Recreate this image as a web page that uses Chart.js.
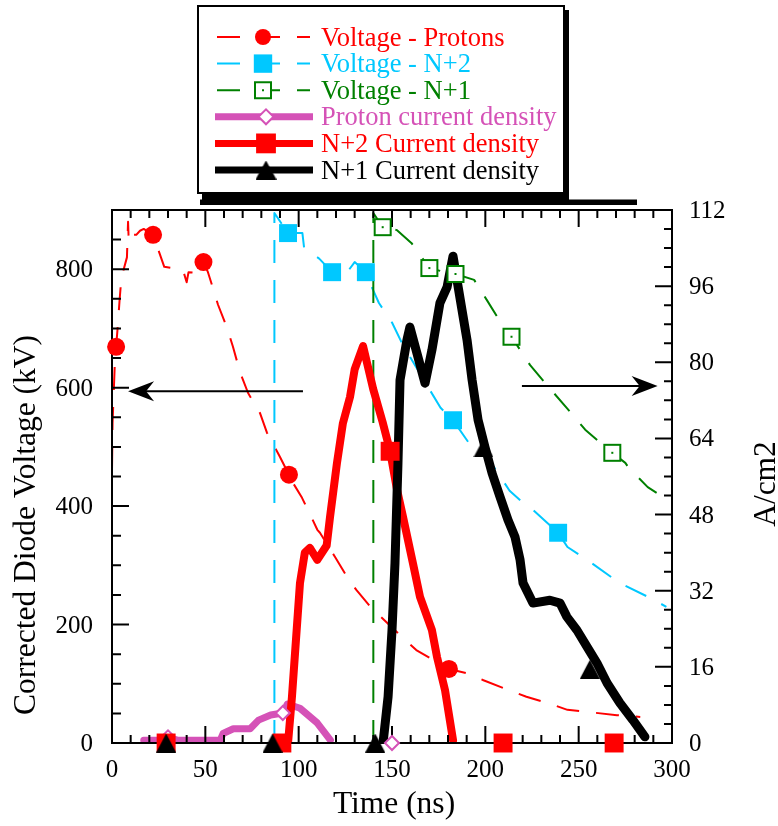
<!DOCTYPE html>
<html>
<head>
<meta charset="utf-8">
<title>Diode voltage and current density</title>
<script src="https://cdn.jsdelivr.net/npm/chart.js@4.4.1/dist/chart.umd.min.js"></script>
<style>
  html, body { margin: 0; padding: 0; background: #fff; }
  canvas { display: block; }
</style>
</head>
<body>
<canvas id="diode-chart" width="778" height="826"></canvas>
<script>
// --- values: time in ns, voltage in kV, current density in A/cm2 ---
const protonVoltageTime = [0, 0.3, 1.5, 2.2, 3, 4, 5, 8, 8.6, 9, 11, 13, 15, 17, 22, 28, 38, 40, 41, 44.5,
  49, 51.4, 53.6, 56.8, 61.6, 64.8, 68.6, 72.9, 79.3, 83, 90, 94.8, 97, 101.8, 107, 110, 111.4, 119.5, 126, 131,
  139, 152.7, 163, 180.5, 190, 199, 209.5, 222, 233, 244, 256, 270.5, 283];
const protonVoltage = [461, 540, 640, 669, 700, 745, 785, 820, 880, 845, 858, 858, 865, 868, 858, 804, 799, 778, 795, 794,
  812, 795, 773, 740, 701, 669, 626, 591, 557, 524, 483, 453, 439, 414, 380, 360, 355, 314, 280, 258,
  228, 187, 157, 125, 118, 106, 93, 78, 68, 56, 52, 47, 44];
const protonVoltageMarkTime = [2.2, 22, 49, 94.8, 180.5];
const protonVoltageMark = [669, 858, 812, 453, 125];

const n2VoltageTime = [87, 87, 94.3, 102, 103, 111, 117.9, 126, 130, 136, 137, 143, 150, 156, 176, 182.7,
  194, 201, 213, 219, 225, 239, 244, 256, 268, 274, 287, 297];
const n2Voltage = [0, 895, 861, 861, 834, 818, 795, 795, 812, 795, 785, 743, 710, 671, 566, 545,
  494, 483, 426, 409, 395, 355, 331, 306, 279, 267, 247, 230];
const n2VoltageMarkTime = [94.3, 117.9, 136, 182.7, 239];
const n2VoltageMark = [861, 795, 795, 545, 355];

const n1VoltageTime = [140, 140, 145, 152.7, 160.5, 170, 176, 178, 184, 194, 201, 209, 211, 214, 224, 232,
  243, 253.5, 268, 275, 276.5, 287, 295];
const n1Voltage = [0, 895, 871, 866, 844, 802, 797, 789, 792, 782, 747, 706, 697, 686, 638, 608,
  568, 529, 490, 473, 466, 432, 416];
const n1VoltageMarkTime = [145, 170, 184, 214, 268];
const n1VoltageMark = [871, 802, 792, 686, 490];

const protonCurrentTime = [17, 25, 30, 35, 58, 59.5, 65, 74, 78.5, 85, 91.5, 94, 100.7, 110, 117];
const protonCurrent = [0.6, 0.6, 1.2, 0.6, 0.6, 2, 3, 3, 4.8, 5.9, 6.3, 8.2, 7.3, 4.2, 0.6];
const protonCurrentMarkTime = [30, 91.5, 150];
const protonCurrentMark = [1.2, 6.3, 0];

const n2CurrentTime = [94.3, 96.4, 100.7, 103.3, 106, 110, 115, 116.8, 120.5, 123.7, 127.5, 130, 134.5, 139.9,
  145, 149, 152.7, 155.9, 161.2, 165, 171.4, 174.1, 178.4, 182.7];
const n2Current = [0, 9.7, 33.6, 40, 41, 38.5, 41.5, 47.5, 58.8, 67.2, 72.7, 78.5, 83.4, 74.4,
  67.4, 61.3, 53.2, 47.5, 37.8, 30.7, 23.7, 18.1, 11.1, 0.6];
const n2CurrentMarkTime = [29, 91, 149, 209.5, 269];
const n2CurrentMark = [0, 0, 61.3, 0, 0];

const n1CurrentTime = [145.2, 147.9, 150, 151.6, 153.2, 154.3, 158, 159.6, 167.7, 171.4, 175.7, 179.5, 182.7,
  187.5, 190.2, 192.9, 196.1, 199.8, 203.6, 207.9, 212.1, 215.9, 218.6, 220.2, 225.5, 234.6, 240,
  243.7, 249.1, 254.5, 259.8, 265.2, 272.1, 279.1, 285.5];
const n1Current = [0, 9.7, 23.7, 37.8, 58.8, 76.3, 84.7, 87.4, 75.6, 82.6, 92.5, 95.8, 102.3,
  91, 84.7, 76.3, 67.9, 62.2, 56.7, 51.7, 46.9, 43.3, 38.5, 33.6, 29.4, 30, 29.4,
  26.5, 23.7, 20.2, 16.8, 12.6, 8.4, 4.8, 1.3];
const n1CurrentMarkTime = [29, 86, 141, 199, 256];
const n1CurrentMark = [0, 0, 0, 62, 15.5];

// axes
const timeTicks = [0, 50, 100, 150, 200, 250, 300];
const voltageTicks = [0, 200, 400, 600, 800];
const currentTicks = [0, 16, 32, 48, 64, 80, 96, 112];

const RED = '#ff0000', CYAN = '#00c8ff', GREEN = '#008000', MAGENTA = '#d552b7', BLACK = '#000000';
const SERIF = '"Liberation Serif", "Times New Roman", serif';

function pts(xs, ys) {
  return xs.map((t, i) => ({x: t, y: ys[i]}));
}

// little canvases for the two marker shapes Chart.js doesn't have
function dotSquare(size, color) {
  const c = document.createElement('canvas');
  c.width = size; c.height = size;
  const g = c.getContext('2d');
  g.fillStyle = '#fff';
  g.fillRect(2, 2, size - 4, size - 4);
  g.strokeStyle = color;
  g.lineWidth = 2;
  g.strokeRect(2, 2, size - 4, size - 4);
  g.fillStyle = color;
  g.fillRect(size / 2 - 1, size / 2 - 1, 2, 2);
  return c;
}

function triangleImg(w, h, color) {
  const c = document.createElement('canvas');
  c.width = w; c.height = h;
  const g = c.getContext('2d');
  g.fillStyle = color;
  g.beginPath();
  g.moveTo(w / 2, 0);
  g.lineTo(w, h);
  g.lineTo(0, h);
  g.closePath();
  g.fill();
  return c;
}

const greenBox = dotSquare(20, GREEN);
const blackTri = triangleImg(20, 19, BLACK);

function curve(xs, ys, color, width, axis, dashed, order) {
  return {
    data: pts(xs, ys), yAxisID: axis, showLine: true,
    borderColor: color, borderWidth: width, borderDash: dashed ? [23, 17] : [],
    borderCapStyle: dashed ? 'butt' : 'round', borderJoinStyle: 'round',
    pointRadius: 0, pointHoverRadius: 0, tension: 0, fill: false, order
  };
}

function markers(xs, ys, color, style, radius, axis, order, fillColor) {
  return {
    data: pts(xs, ys), yAxisID: axis, showLine: false, isMarker: true,
    pointStyle: style, pointRadius: radius, pointHoverRadius: radius,
    pointBackgroundColor: fillColor || color, pointBorderColor: color,
    pointBorderWidth: fillColor ? 2 : 0, clip: false, order
  };
}

function drawFrame(chart) {
  const {ctx, chartArea: a, scales} = chart;
  ctx.save();
  ctx.strokeStyle = BLACK;
  ctx.lineWidth = 2;
  ctx.strokeRect(a.left, a.top, a.right - a.left, a.bottom - a.top);
  ctx.beginPath();
  for (let v = 0; v <= 300; v += 10) {
    const px = scales.x.getPixelForValue(v);
    const len = v % 50 === 0 ? 17 : 8;
    ctx.moveTo(px, a.bottom); ctx.lineTo(px, a.bottom - len);
    ctx.moveTo(px, a.top); ctx.lineTo(px, a.top + len);
  }
  for (let v = 0; v <= 900; v += 50) {
    const py = scales.y.getPixelForValue(v);
    ctx.moveTo(a.left, py); ctx.lineTo(a.left + (v % 200 === 0 ? 17 : 9), py);
  }
  for (let v = 0; v <= 112; v += 4) {
    const py = scales.y2.getPixelForValue(v);
    ctx.moveTo(a.right, py); ctx.lineTo(a.right - (v % 16 === 0 ? 17 : 8), py);
  }
  ctx.stroke();
  ctx.restore();
}

function arrow(ctx, x0, y0, x1, y1) {
  const dir = Math.sign(x1 - x0);
  ctx.beginPath();
  ctx.moveTo(x0, y0);
  ctx.lineTo(x1 - dir * 10, y1);
  ctx.stroke();
  ctx.beginPath();
  ctx.moveTo(x1, y1);
  ctx.lineTo(x1 - dir * 26, y1 - 10);
  ctx.lineTo(x1 - dir * 18, y1);
  ctx.lineTo(x1 - dir * 26, y1 + 10);
  ctx.closePath();
  ctx.fill();
}

const legendRows = [
  {label: 'Voltage - Protons', color: RED, dashed: true, style: 'circle', radius: 8},
  {label: 'Voltage - N+2', color: CYAN, dashed: true, style: 'rect', radius: 13},
  {label: 'Voltage - N+1', color: GREEN, dashed: true, style: greenBox, radius: 9},
  {label: 'Proton current density', color: MAGENTA, dashed: false, style: 'rectRot', radius: 7.5, open: true},
  {label: 'N+2 Current density', color: RED, dashed: false, style: 'rect', radius: 14},
  {label: 'N+1 Current density', color: BLACK, dashed: false, style: triangleImg(21, 19, BLACK), radius: 10}
];

function drawLegend(ctx) {
  ctx.save();
  ctx.fillStyle = '#fff';
  ctx.fillRect(198, 6, 366, 187);
  ctx.strokeStyle = BLACK;
  ctx.lineWidth = 2;
  ctx.strokeRect(198, 6, 366, 187);
  ctx.fillStyle = BLACK;
  ctx.fillRect(564, 10, 5, 190);
  ctx.fillRect(202, 192, 367, 8);
  ctx.fillRect(200, 199.5, 437, 5.5);

  ctx.font = '26.5px ' + SERIF;
  ctx.textAlign = 'left';
  ctx.textBaseline = 'alphabetic';
  legendRows.forEach((row, i) => {
    const y = 37 + i * 26.6;
    ctx.strokeStyle = row.color;
    if (row.dashed) {
      ctx.lineWidth = 2;
      ctx.setLineDash([23, 17]);
      ctx.beginPath(); ctx.moveTo(217, y); ctx.lineTo(310, y); ctx.stroke();
      ctx.setLineDash([]);
    } else {
      ctx.lineWidth = 7;
      ctx.beginPath(); ctx.moveTo(215, y); ctx.lineTo(313, y); ctx.stroke();
    }
    ctx.fillStyle = row.open ? '#fff' : row.color;
    ctx.strokeStyle = row.color;
    ctx.lineWidth = 2;
    Chart.helpers.drawPoint(ctx, {pointStyle: row.style, radius: row.radius, rotation: 0, borderWidth: row.open ? 2 : 0},
      row.dashed ? 263 : 266, y);
    ctx.fillStyle = row.color;
    ctx.fillText(row.label, 321, y + 8.5);
  });
  ctx.restore();
}

let frameDrawn = false;
const framePlugin = {
  id: 'frame',
  beforeDatasetsDraw() { frameDrawn = false; },
  beforeDatasetDraw(chart, args) {
    if (!frameDrawn && chart.data.datasets[args.index].isMarker) {
      drawFrame(chart);
      frameDrawn = true;
    }
  },
  afterDatasetsDraw(chart) {
    if (!frameDrawn) { drawFrame(chart); frameDrawn = true; }
  },
  afterDraw(chart) {
    const {ctx, chartArea: a, scales} = chart;
    ctx.save();
    ctx.fillStyle = BLACK;
    ctx.font = '25px ' + SERIF;
    ctx.textBaseline = 'alphabetic';
    ctx.textAlign = 'center';
    timeTicks.forEach(v => ctx.fillText(String(v), scales.x.getPixelForValue(v), a.bottom + 34));
    ctx.textAlign = 'right';
    voltageTicks.forEach(v => ctx.fillText(String(v), a.left - 19, scales.y.getPixelForValue(v) + 8));
    ctx.textAlign = 'left';
    currentTicks.forEach(v => ctx.fillText(String(v), a.right + 17, scales.y2.getPixelForValue(v) + 8));

    ctx.font = '31.5px ' + SERIF;
    ctx.textAlign = 'center';
    ctx.fillText('Time (ns)', (a.left + a.right) / 2 + 2, a.bottom + 70);
    ctx.save();
    ctx.translate(35, 525);
    ctx.rotate(-Math.PI / 2);
    ctx.fillText('Corrected Diode Voltage (kV)', 0, 0);
    ctx.restore();
    ctx.save();
    ctx.translate(775, 484);
    ctx.rotate(-Math.PI / 2);
    ctx.fillText('A/cm2', 0, 0);
    ctx.restore();

    // arrows pointing each family of curves to its axis
    ctx.strokeStyle = BLACK;
    ctx.lineWidth = 2;
    const yl = scales.y.getPixelForValue(594);
    arrow(ctx, scales.x.getPixelForValue(102.3), yl, scales.x.getPixelForValue(8.6), yl);
    const yr = scales.y2.getPixelForValue(75);
    arrow(ctx, scales.x.getPixelForValue(219.6), yr, scales.x.getPixelForValue(292.3), yr);
    ctx.restore();

    drawLegend(ctx);
  }
};

new Chart(document.getElementById('diode-chart'), {
  type: 'scatter',
  data: {
    datasets: [
      curve(protonVoltageTime, protonVoltage, RED, 2, 'y', true, 92),
      curve(n2VoltageTime, n2Voltage, CYAN, 2, 'y', true, 91),
      curve(n1VoltageTime, n1Voltage, GREEN, 2, 'y', true, 90),
      curve(protonCurrentTime, protonCurrent, MAGENTA, 7, 'y2', false, 82),
      curve(n2CurrentTime, n2Current, RED, 8, 'y2', false, 81),
      curve(n1CurrentTime, n1Current, BLACK, 9, 'y2', false, 80),
      markers(protonVoltageMarkTime, protonVoltageMark, RED, 'circle', 9, 'y', 32),
      markers(n2VoltageMarkTime, n2VoltageMark, CYAN, 'rect', 12.7, 'y', 31),
      markers(n1VoltageMarkTime, n1VoltageMark, GREEN, greenBox, 10, 'y', 30),
      markers(protonCurrentMarkTime, protonCurrentMark, MAGENTA, 'rectRot', 7, 'y2', 22, '#ffffff'),
      markers(n2CurrentMarkTime, n2CurrentMark, RED, 'rect', 13.4, 'y2', 21),
      markers(n1CurrentMarkTime, n1CurrentMark, BLACK, blackTri, 10, 'y2', 20)
    ]
  },
  options: {
    responsive: false,
    animation: false,
    events: [],
    layout: {padding: {left: 112, top: 210, right: 106, bottom: 83}},
    scales: {
      x: {type: 'linear', min: 0, max: 300, display: false},
      y: {type: 'linear', position: 'left', min: 0, max: 900, display: false},
      y2: {type: 'linear', position: 'right', min: 0, max: 112, display: false}
    },
    plugins: {
      legend: {display: false},
      tooltip: {enabled: false}
    }
  },
  plugins: [framePlugin]
});
</script>
</body>
</html>
